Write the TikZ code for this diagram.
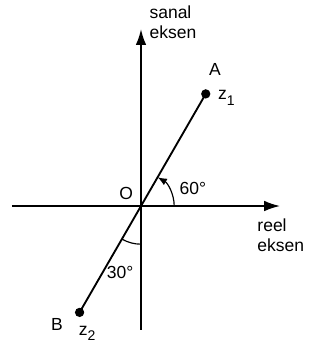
\documentclass[tikz,border=0pt]{standalone}
\usepackage{fontspec}
\setmainfont{Liberation Sans}
\usetikzlibrary{arrows.meta,positioning}
\newcommand{\subnum}[1]{\raisebox{-0.6ex}{\fontsize{12}{12}\selectfont #1}}

\begin{document}
\begin{tikzpicture}[
    axis/.style={line width=1.6pt,-{Latex[length=4.8mm,width=3.2mm]}},
    ray/.style={line width=1.6pt},
    dot/.style={circle,fill=black,inner sep=0pt,minimum size=2.8mm},
    lbl/.style={font=\fontsize{15}{17}\selectfont,inner sep=0pt},
    angarc/.style={line width=1pt}]
    \useasboundingbox (-4.247,-4.367) rectangle (5.753,6.205);
    \coordinate (O) at (0,0);
    \coordinate (xl) at (-3.89,0);
    \coordinate (xr) at (4.19,0);
    \coordinate (yb) at (0,-3.73);
    \coordinate (yt) at (0,5.33);
    \node[dot] (A) at (60:3.9) {};
    \node[dot] (B) at (240:3.7) {};
    % axes
    \draw[axis] (xl) -- (xr);
    \draw[axis] (yb) -- (yt);
    \draw[ray] (B.center) -- (A.center);
    % angle marks
    \draw[angarc,-{Latex[length=2.8mm,width=2.2mm]}] (1.0,0) arc[start angle=0,end angle=60,radius=1.0];
    \draw[angarc] (240:1.15) arc[start angle=240,end angle=270,radius=1.15];
    % labels
    \node[lbl,anchor=west,align=left] (im) at (0.25,5.54) {sanal\\eksen};
    \node[lbl,anchor=west,align=left] (re) at (3.50,-0.87) {reel\\eksen};
    \node[lbl] (Alab) at (2.23,4.10) {A};
    \node[lbl] (z1) at (2.57,3.25) {z\subnum{1}};
    \node[lbl] (Olab) at (-0.45,0.39) {O};
    \node[lbl] (a60) at (1.56,0.54) {60°};
    \node[lbl] (a30) at (-0.63,-1.99) {30°};
    \node[lbl] (Blab) at (-2.53,-3.58) {B};
    \node[lbl] (z2) at (-1.62,-3.83) {z\subnum{2}};
\end{tikzpicture}
\end{document}
